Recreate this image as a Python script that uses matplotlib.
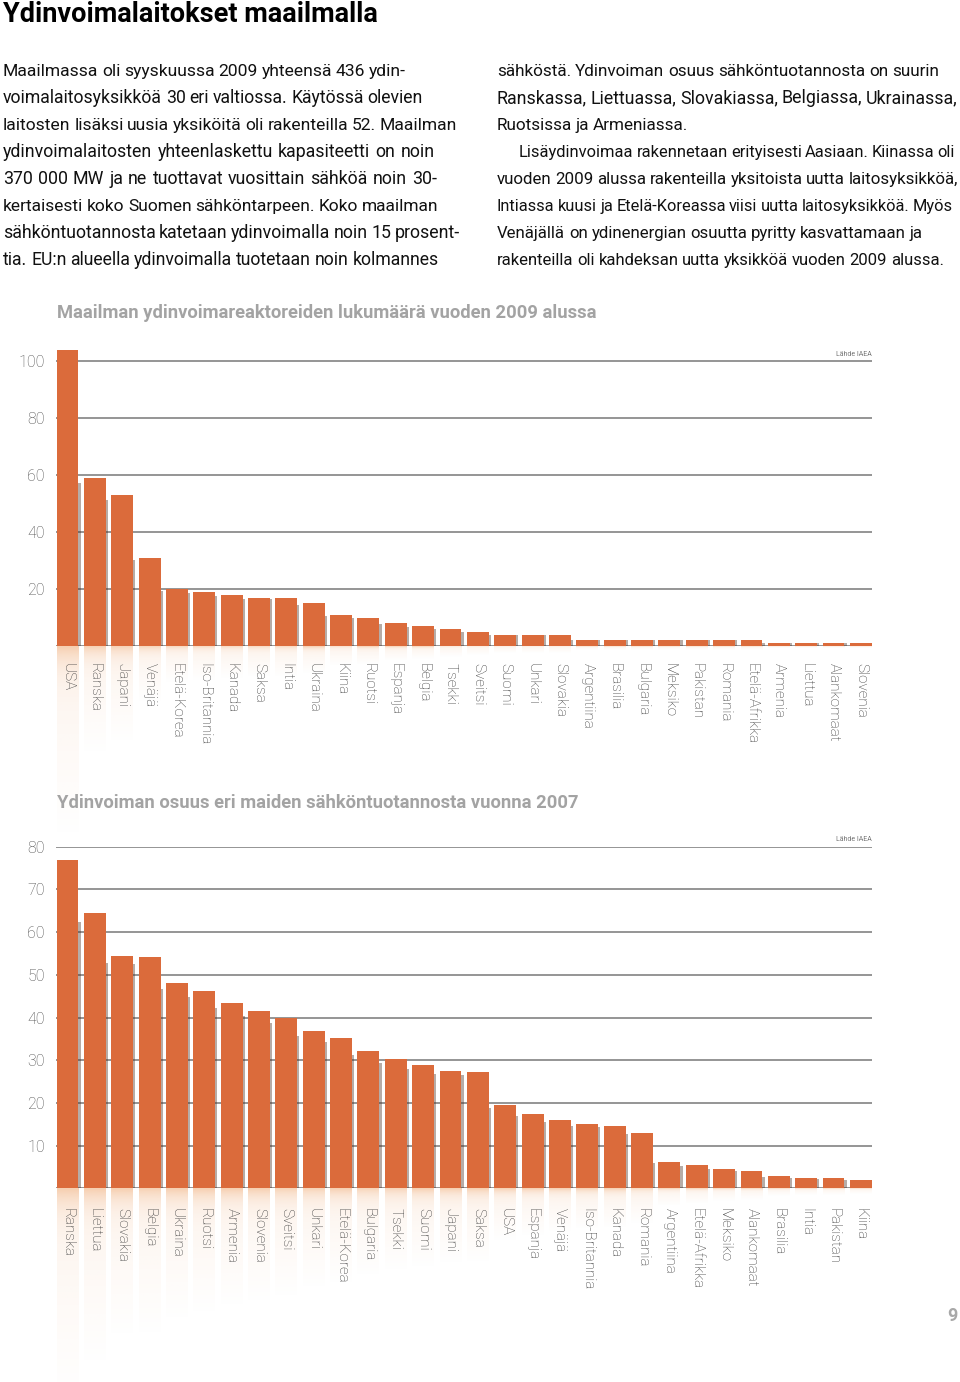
import numpy as np
import matplotlib.pyplot as plt

# data: reactors at start of 2009
maat1 = ['USA', 'Ranska', 'Japani', 'Venäjä', 'Etelä-Korea', 'Iso-Britannia', 'Kanada',
         'Saksa', 'Intia', 'Ukraina', 'Kiina', 'Ruotsi', 'Espanja', 'Belgia', 'Tsekki',
         'Sveitsi', 'Suomi', 'Unkari', 'Slovakia', 'Argentiina', 'Brasilia', 'Bulgaria',
         'Meksiko', 'Pakistan', 'Romania', 'Etelä-Afrikka', 'Armenia', 'Liettua',
         'Alankomaat', 'Slovenia']
reaktorit = [104, 59, 53, 31, 20, 19, 18, 17, 17, 15, 11, 10, 8, 7, 6,
             5, 4, 4, 4, 2, 2, 2, 2, 2, 2, 2, 1, 1, 1, 1]
ticks1 = [20, 40, 60, 80, 100]

# data: nuclear share of electricity 2007 (%)
maat2 = ['Ranska', 'Liettua', 'Slovakia', 'Belgia', 'Ukraina', 'Ruotsi', 'Armenia',
         'Slovenia', 'Sveitsi', 'Unkari', 'Etelä-Korea', 'Bulgaria', 'Tsekki', 'Suomi',
         'Japani', 'Saksa', 'USA', 'Espanja', 'Venäjä', 'Iso-Britannia', 'Kanada',
         'Romania', 'Argentiina', 'Etelä-Afrikka', 'Meksiko', 'Alankomaat', 'Brasilia',
         'Intia', 'Pakistan', 'Kiina']
osuus = [77.0, 64.4, 54.3, 54.1, 48.1, 46.1, 43.5, 41.6, 40.0, 36.8, 35.3, 32.1, 30.3,
         28.9, 27.5, 27.3, 19.4, 17.4, 16.0, 15.1, 14.7, 13.0, 6.2, 5.5, 4.6, 4.1,
         2.8, 2.5, 2.3, 1.9]
ticks2 = [10, 20, 30, 40, 50, 60, 70, 80]

vasen = ['Maailmassa oli syyskuussa 2009 yhteensä 436 ydin-',
         'voimalaitosyksikköä 30 eri valtiossa. Käytössä olevien',
         'laitosten lisäksi uusia yksiköitä oli rakenteilla 52. Maailman',
         'ydinvoimalaitosten yhteenlaskettu kapasiteetti on noin',
         '370 000 MW ja ne tuottavat vuosittain sähköä noin 30-',
         'kertaisesti koko Suomen sähköntarpeen. Koko maailman',
         'sähköntuotannosta katetaan ydinvoimalla noin 15 prosent-',
         'tia. EU:n alueella ydinvoimalla tuotetaan noin kolmannes']
oikea = ['sähköstä. Ydinvoiman osuus sähköntuotannosta on suurin',
         'Ranskassa, Liettuassa, Slovakiassa, Belgiassa, Ukrainassa,',
         'Ruotsissa ja Armeniassa.',
         'Lisäydinvoimaa rakennetaan erityisesti Aasiaan. Kiinassa oli',
         'vuoden 2009 alussa rakenteilla yksitoista uutta laitosyksikköä,',
         'Intiassa kuusi ja Etelä-Koreassa viisi uutta laitosyksikköä. Myös',
         'Venäjällä on ydinenergian osuutta pyritty kasvattamaan ja',
         'rakenteilla oli kahdeksan uutta yksikköä vuoden 2009 alussa.']
# right ends of the text lines in the page (px)
vasen_loppu = [406, 423, 457, 435, 437, 438, 460, 439]
oikea_loppu = [939, 957, 688, 955, 958, 953, 923, 944]

ORANSSI = '#db6b3b'
H = 1382.0
plt.rcParams['font.family'] = ['Roboto', 'DejaVu Sans']

fig = plt.figure(figsize=(9.6, 13.82), dpi=100)
rend = fig.canvas.get_renderer()


def fy(px):
    return 1 - px / H


def leveys(s, koko):
    tt = fig.text(0, 0, s, fontsize=koko)
    w = tt.get_window_extent(rend).width
    tt.remove()
    return w


def rivi(x0, x1, ypx, teksti, koko=12.2):
    # size the line a little and set word gaps so it runs from x0 to x1 (px)
    luonnollinen = leveys(teksti, koko)
    koko = float(np.clip(koko * (x1 - x0) / luonnollinen, 11.6, 12.8))
    sanat = teksti.split(' ')
    leveydet = [leveys(s, koko) for s in sanat]
    vali = (x1 - x0 - sum(leveydet)) / max(len(sanat) - 1, 1)
    x = x0
    for s, lw in zip(sanat, leveydet):
        fig.text(x / 960, fy(ypx), s, fontsize=koko, color='#111111', va='baseline')
        x += lw + vali


fig.text(0.003, fy(22), 'Ydinvoimalaitokset maailmalla', fontsize=19.5,
         fontweight='bold', color='black', va='baseline')
for i, r in enumerate(vasen):
    rivi(3, vasen_loppu[i], 76 + 27 * i, r)
for i, r in enumerate(oikea):
    rivi(519 if i == 3 else 497, oikea_loppu[i], 76 + 27 * i, r)

# gradient used for the bar reflections
t = np.linspace(0, 1, 80)[:, None]
alfa = 0.38 * np.exp(-t * 12) + 0.12 * (1 - t)
rgba = np.zeros((80, 1, 4))
rgba[..., :3] = np.array([238, 160, 100]) / 255.0
rgba[..., 3] = alfa


def pylvaat(ax, maat, arvot, ticks, ylim, otsikko, otsikko_y, label_y, lahde_y):
    x = np.arange(len(maat))
    w = 0.8
    ax.bar(x, arvot, width=w, color=ORANSSI, zorder=3)
    # thin shadow beside each bar
    for i in range(len(arvot) - 1):
        ax.bar(i + w / 2 + 0.02, arvot[i + 1] * 0.97, width=0.12, color='#4a3024',
               alpha=0.4, zorder=2.5, linewidth=0)
    for i, v in enumerate(arvot):
        ax.imshow(rgba, extent=(i - w / 2, i + w / 2, -0.65 * v, 0), aspect='auto',
                  clip_on=False, zorder=1, interpolation='bilinear')
    for y in [0] + ticks:
        ax.axhline(y, color='#8c8c8c', lw=1.3, zorder=2)
    ax.set_xlim(-0.42, len(maat) - 0.58)
    ax.set_ylim(*ylim)
    ax.set_yticks(ticks)
    ax.set_yticklabels([str(v) for v in ticks], fontsize=11.5, color='#4d4d4d',
                       fontweight='light')
    ax.tick_params(axis='y', length=0, pad=8)
    ax.set_xticks([])
    for s in ax.spines.values():
        s.set_visible(False)
    ax.patch.set_alpha(0)
    # country names rotated under the bars
    for i, m in enumerate(maat):
        xf = ax.transData.transform((i, 0))[0] / fig.bbox.width
        fig.text(xf, fy(label_y), m, rotation=270, ha='center', va='top',
                 fontsize=11, color='#383838', fontweight='light', zorder=5)
    fig.text(57 / 960, fy(otsikko_y), otsikko, fontsize=13.2, fontweight='bold',
             color='#a3a3a3', va='baseline')
    fig.text(872 / 960, fy(lahde_y), 'Lähde IAEA', fontsize=5, color='#777777',
             ha='right', va='baseline')


ax1 = fig.add_axes([56 / 960, fy(646), 816.4 / 960, (646 - 344) / H])
pylvaat(ax1, maat1, reaktorit, ticks1, (0, 106),
        'Maailman ydinvoimareaktoreiden lukumäärä vuoden 2009 alussa', 318, 663, 356)

ax2 = fig.add_axes([56 / 960, fy(1188.3), 816.4 / 960, (1188.3 - 846.7) / H])
pylvaat(ax2, maat2, osuus, ticks2, (0, 80),
        'Ydinvoiman osuus eri maiden sähköntuotannosta vuonna 2007', 808, 1208, 841)

fig.text(957 / 960, fy(1316), '9', fontsize=13, fontweight='bold', color='#a8a8a8',
         ha='right', va='center')

fig.savefig('out.png', dpi=100)
